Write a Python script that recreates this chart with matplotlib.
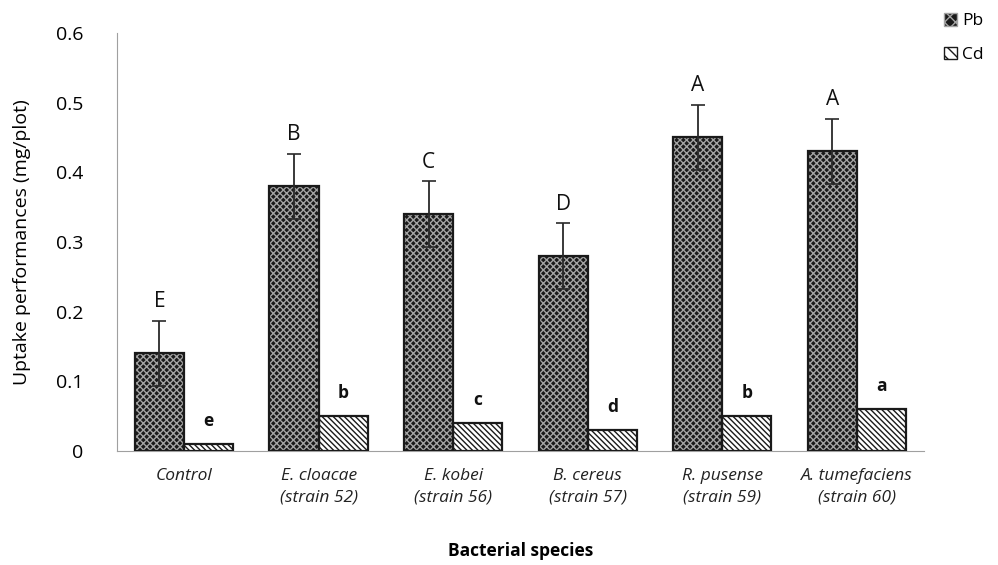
import matplotlib
matplotlib.use("Agg")
import matplotlib.pyplot as plt
import numpy as np
from matplotlib.patches import Patch

plt.rcParams["font.family"] = ["Open Sans", "DejaVu Sans"]
plt.rcParams["hatch.linewidth"] = 1.0

categories = ["Control", "E. cloacae\n(strain 52)", "E. kobei\n(strain 56)",
              "B. cereus\n(strain 57)", "R. pusense\n(strain 59)",
              "A. tumefaciens\n(strain 60)"]
pb = [0.14, 0.38, 0.34, 0.28, 0.45, 0.43]
pb_err = [0.047, 0.047, 0.047, 0.047, 0.047, 0.047]
cd = [0.01, 0.05, 0.04, 0.03, 0.05, 0.06]
pb_letters = ["E", "B", "C", "D", "A", "A"]
cd_letters = ["e", "b", "c", "d", "b", "a"]

PB_FACE = "#1a1a1a"
PB_HATCH = "#a4a4a4"
PB_PATTERN = "xxxxx"
CD_HATCH = "\\" * 6

fig = plt.figure(figsize=(9.98, 5.65), dpi=100)
ax = fig.add_axes([0.117, 0.2018, 0.809, 0.7398])

x = np.arange(len(categories))
w = 0.365

# Pb: dark checkered fill, Cd: diagonal hatch
ax.bar(x - w / 2, pb, w, color=PB_FACE, edgecolor=PB_HATCH,
       hatch=PB_PATTERN, linewidth=0, zorder=2)
ax.bar(x - w / 2, pb, w, color="none", edgecolor="#1a1a1a",
       linewidth=1.6, zorder=3)
ax.errorbar(x - w / 2, pb, yerr=pb_err, fmt="none", ecolor="#2a2a2a",
            elinewidth=1.3, capsize=5, capthick=1.2, zorder=4)

ax.bar(x + w / 2, cd, w, color="white", edgecolor="#1a1a1a",
       hatch=CD_HATCH, linewidth=0, zorder=2)
ax.bar(x + w / 2, cd, w, color="none", edgecolor="#1a1a1a",
       linewidth=1.6, zorder=3)

for xi, v, e, t in zip(x, pb, pb_err, pb_letters):
    ax.text(xi - w / 2, v + e + 0.012, t, ha="center", va="bottom",
            fontsize=15, color="#111111")
for xi, v, t in zip(x, cd, cd_letters):
    ax.text(xi + w / 2, v + 0.02, t, ha="center", va="bottom",
            fontsize=12.5, fontweight="bold", color="#111111")

ax.set_xlim(-0.5, len(categories) - 0.5)
ax.set_ylim(0, 0.6)
ax.set_yticks(np.arange(0, 0.61, 0.1))
ax.set_yticklabels(["0", "0.1", "0.2", "0.3", "0.4", "0.5", "0.6"],
                   fontsize=14)
ax.set_xticks(x)
ax.set_xticklabels(categories, fontsize=12.5, style="italic",
                   color="#222222", linespacing=1.5)
ax.tick_params(axis="x", length=0, pad=12)
ax.tick_params(axis="y", length=0, pad=24)

for s in ["top", "right"]:
    ax.spines[s].set_visible(False)
ax.spines["left"].set_color("#a0a0a0")
ax.spines["bottom"].set_color("#a0a0a0")

ax.set_ylabel("Uptake performances (mg/plot)", fontsize=14, labelpad=18)
ax.set_xlabel("Bacterial species", fontsize=12.5, fontweight="bold",
              labelpad=26)

handles = [Patch(facecolor=PB_FACE, edgecolor=PB_HATCH, hatch="xxx"),
           Patch(facecolor="white", edgecolor="#1a1a1a", hatch="\\\\\\")]
fig.legend(handles, ["Pb", "Cd"], loc="upper left",
           bbox_to_anchor=(0.930, 1.005), frameon=False, fontsize=12.5,
           handlelength=0.75, handleheight=0.75, handletextpad=0.3,
           labelspacing=1.0)

fig.savefig("out.png", dpi=100)
